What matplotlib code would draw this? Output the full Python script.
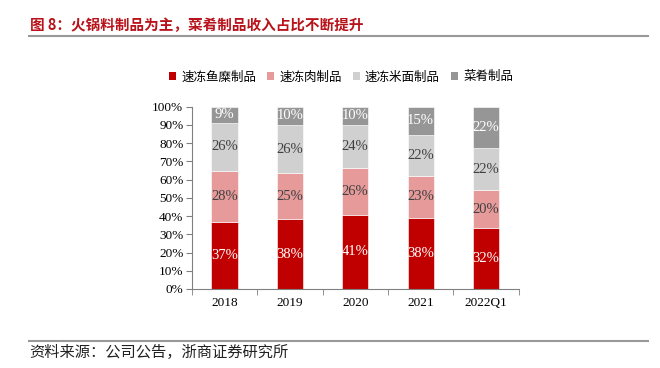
import numpy as np
import matplotlib
matplotlib.use("Agg")
import matplotlib.pyplot as plt
from matplotlib.patches import Patch
from matplotlib.lines import Line2D

plt.rcParams['font.family'] = ['Noto Sans CJK SC', 'DejaVu Sans']

# data (share of revenue, %)
years = ["2018", "2019", "2020", "2021", "2022Q1"]
fish = [37, 38, 41, 38, 32]
meat = [28, 25, 26, 23, 20]
noodle = [26, 26, 24, 22, 22]
dishes = [9, 10, 10, 15, 22]
series_names = ["速冻鱼糜制品", "速冻肉制品", "速冻米面制品", "菜肴制品"]

colors = ["#C00000", "#E69A9A", "#D0D0D0", "#969696"]
label_colors = ["white", "#404040", "#404040", "white"]

fig = plt.figure(figsize=(6.6, 3.68), dpi=100)
ax = fig.add_axes([0.2905, 0.2147, 0.4955, 0.4953])

data = np.array([fish, meat, noodle, dishes], dtype=float)
totals = data.sum(axis=0)
shares = data / totals * 100  # 100% stacked like the original

x = np.arange(len(years))
bottom = np.zeros(len(years))
serif = "Liberation Serif"
for i in range(4):
    ax.bar(x, shares[i], 0.4, bottom=bottom, color=colors[i],
           edgecolor="white", linewidth=0.4, zorder=2)
    for j in range(len(years)):
        ax.text(x[j], bottom[j] + shares[i][j] / 2, f"{int(data[i][j])}%",
                ha="center", va="center", fontsize=10.5, family=serif,
                color=label_colors[i], zorder=3)
    bottom += shares[i]

ax.set_xlim(-0.5, len(years) - 0.5)
ax.set_ylim(0, 100)
ax.set_yticks(np.arange(0, 101, 10))
ax.set_yticklabels([f"{v}%" for v in range(0, 101, 10)], family=serif, fontsize=9.5)
ax.set_xticks(x)
ax.set_xticklabels(years, family=serif, fontsize=9.5)
ax.set_xticks(np.arange(-0.5, len(years)), minor=True)
ax.tick_params(axis="x", which="major", length=0, pad=6)
ax.tick_params(axis="x", which="minor", length=4, color="#808080")
ax.tick_params(axis="y", length=4, color="#808080", pad=2)
for s in ["top", "right"]:
    ax.spines[s].set_visible(False)
for s in ["left", "bottom"]:
    ax.spines[s].set_color("#808080")
    ax.spines[s].set_linewidth(0.8)

handles = [Patch(facecolor=c, edgecolor="none") for c in colors]
fig.legend(handles, series_names, loc="center", bbox_to_anchor=(0.517, 0.791),
           ncol=4, frameon=False, fontsize=9, handlelength=0.55, handleheight=0.55,
           handletextpad=0.4, columnspacing=0.9)

# title, rules, source
fig.text(0.045, 0.932, "图 8：火锅料制品为主，菜肴制品收入占比不断提升",
         fontsize=10.5, fontweight="bold", color="#B8121B", va="center", ha="left")
fig.add_artist(Line2D([0.044, 0.982], [0.902, 0.902], color="#999999", lw=1.5))
fig.add_artist(Line2D([0.044, 0.982], [0.0734, 0.0734], color="#999999", lw=1.5))
fig.text(0.045, 0.043, "资料来源：公司公告，浙商证券研究所", fontsize=11,
         color="#222222", va="center", ha="left")

fig.savefig("out.png", dpi=100)
